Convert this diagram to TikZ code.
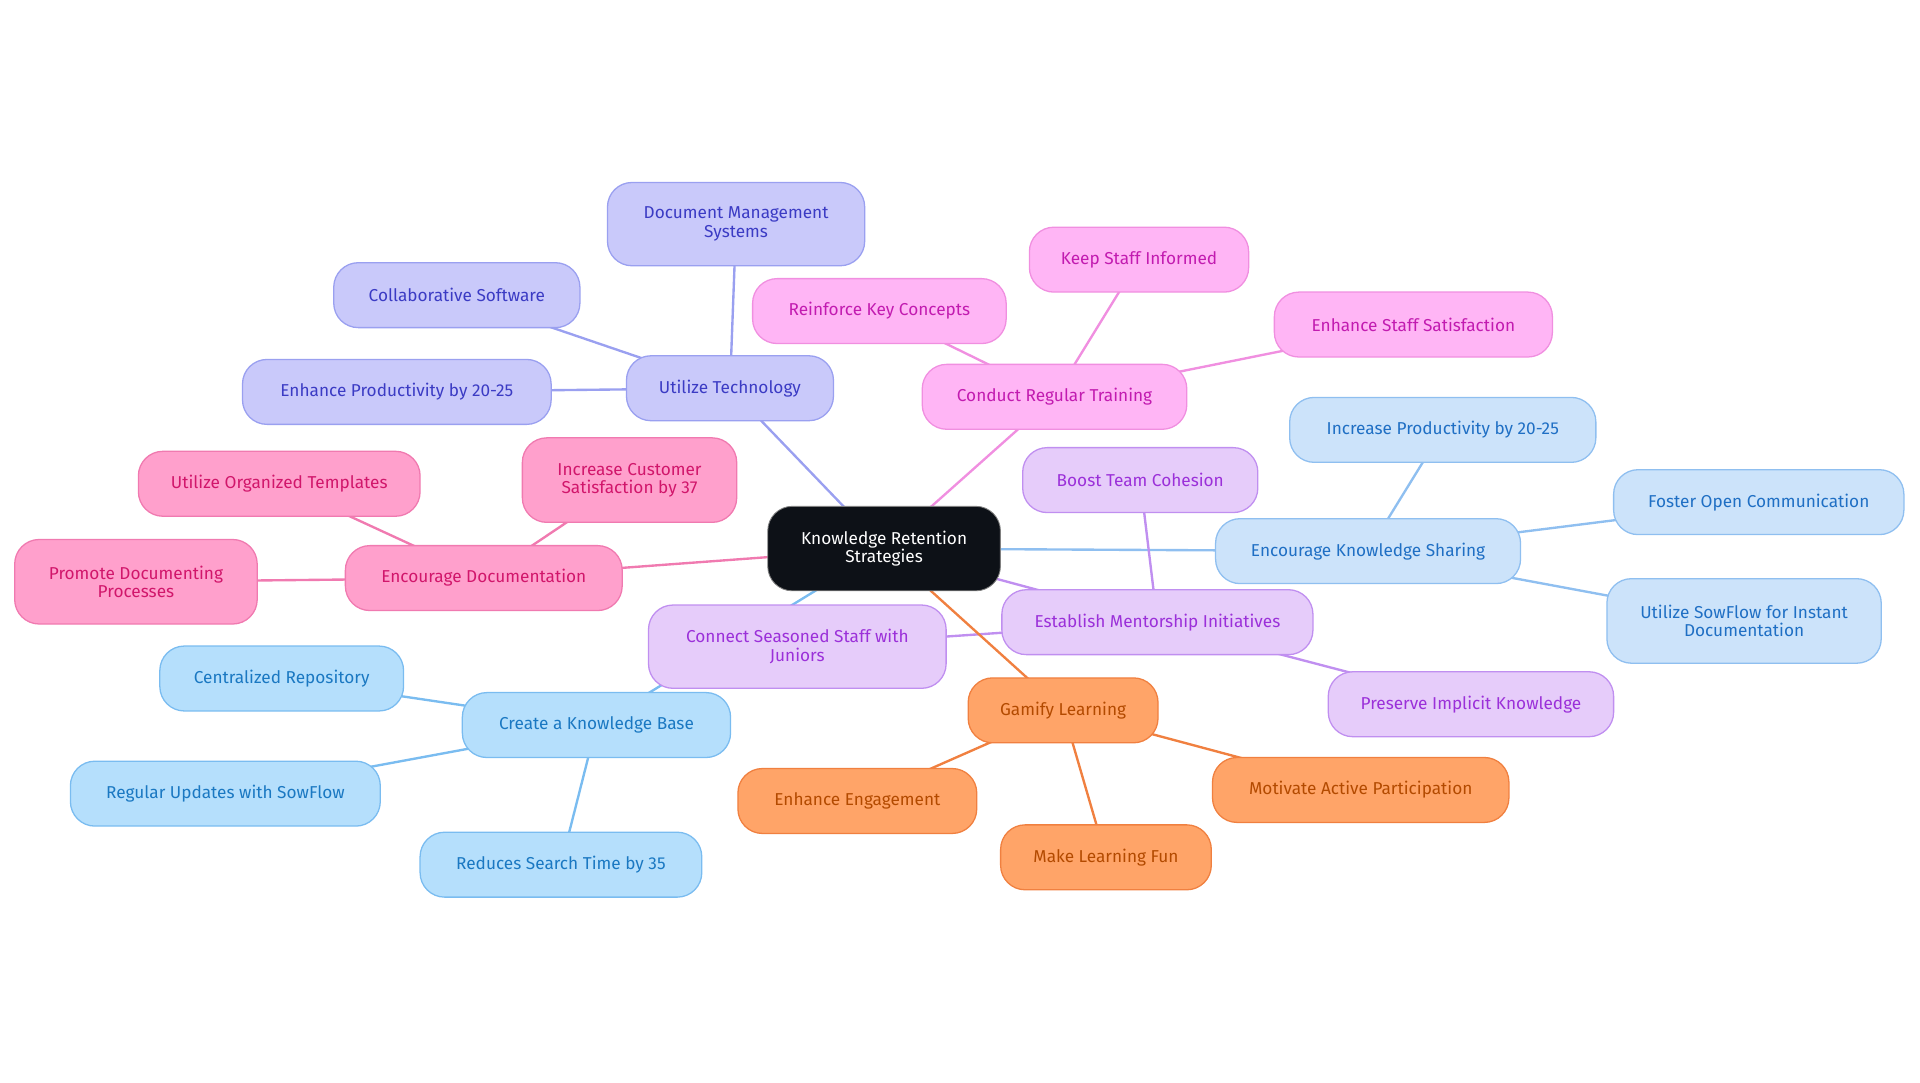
\documentclass[tikz,border=0pt]{standalone}
\usepackage{fontspec}
\setmainfont{Fira Sans}
\usetikzlibrary{backgrounds}
\definecolor{cB}{HTML}{0D1117}
\definecolor{tF}{HTML}{C9C9FA}\definecolor{tT}{HTML}{3B3BC4}\definecolor{tL}{HTML}{9AA0F0}
\definecolor{rF}{HTML}{FFB5F5}\definecolor{rT}{HTML}{C21BB0}\definecolor{rL}{HTML}{F08FE0}
\definecolor{dF}{HTML}{FFA0CC}\definecolor{dT}{HTML}{D1166B}\definecolor{dL}{HTML}{F07AB0}
\definecolor{sF}{HTML}{CCE3FA}\definecolor{sT}{HTML}{1F6FC4}\definecolor{sL}{HTML}{8FBFF0}
\definecolor{mF}{HTML}{E6CCFA}\definecolor{mT}{HTML}{9B30D9}\definecolor{mL}{HTML}{C08FF0}
\definecolor{kF}{HTML}{B5DFFC}\definecolor{kT}{HTML}{1A78C2}\definecolor{kL}{HTML}{7ABCF0}
\definecolor{gF}{HTML}{FFA468}\definecolor{gT}{HTML}{B34A00}\definecolor{gL}{HTML}{F08040}
\tikzset{
 bx/.style={rounded corners=0.4cm,draw=#1L,fill=#1F,text=#1T,line width=0.6pt,align=center,font=\fontsize{8}{8.6}\selectfont,inner sep=0pt},
 ln/.style={draw=#1L,line width=1.1pt},
}
\newcommand{\bn}[7]{\node[bx=#1,minimum width=#5*0.02cm,minimum height=#6*0.02cm] (#2) at (#3*0.02,-#4*0.02) {#7};}
\begin{document}
\begin{tikzpicture}
\useasboundingbox (0,0) rectangle (31.36,-17.68);
\node[rounded corners=0.4cm,draw=gray,fill=cB,text=white,align=center,font=\fontsize{8}{8.6}\selectfont,minimum width=3.8cm,minimum height=1.38cm,inner sep=0pt] (c) at (14.44,-8.96) {Knowledge Retention\\Strategies};
\bn{t}{t0}{596}{317}{169}{53}{Utilize Technology}
\bn{t}{t1}{601}{183}{210}{68}{Document Management\\Systems}
\bn{t}{t2}{373}{241}{201}{53}{Collaborative Software}
\bn{t}{t3}{324}{320}{252}{53}{Enhance Productivity by 20-25}
\bn{r}{r0}{861}{324}{216}{53}{Conduct Regular Training}
\bn{r}{r1}{718}{254}{207}{53}{Reinforce Key Concepts}
\bn{r}{r2}{930}{212}{179}{53}{Keep Staff Informed}
\bn{r}{r3}{1154}{265}{227}{53}{Enhance Staff Satisfaction}
\bn{d}{d0}{395}{472}{226}{53}{Encourage Documentation}
\bn{d}{d1}{514}{392}{175}{69}{Increase Customer\\Satisfaction by 37}
\bn{d}{d2}{228}{395}{230}{53}{Utilize Organized Templates}
\bn{d}{d3}{111}{475}{198}{69}{Promote Documenting\\Processes}
\bn{s}{s0}{1117}{450}{249}{53}{Encourage Knowledge Sharing}
\bn{s}{s1}{1178}{351}{250}{53}{Increase Productivity by 20-25}
\bn{s}{s2}{1436}{410}{237}{53}{Foster Open Communication}
\bn{s}{s3}{1424}{507}{224}{69}{Utilize SowFlow for Instant\\Documentation}
\bn{m}{m0}{945}{508}{254}{53}{Establish Mentorship Initiatives}
\bn{m}{m1}{931}{392}{192}{53}{Boost Team Cohesion}
\bn{m}{m2}{651}{528}{243}{68}{Connect Seasoned Staff with\\Juniors}
\bn{m}{m3}{1201}{575}{233}{53}{Preserve Implicit Knowledge}
\bn{k}{k0}{487}{592}{219}{53}{Create a Knowledge Base}
\bn{k}{k1}{230}{554}{199}{53}{Centralized Repository}
\bn{k}{k2}{184}{648}{253}{53}{Regular Updates with SowFlow}
\bn{k}{k3}{458}{706}{230}{53}{Reduces Search Time by 35}
\bn{g}{g0}{868}{580}{155}{53}{Gamify Learning}
\bn{g}{g1}{700}{654}{195}{53}{Enhance Engagement}
\bn{g}{g2}{903}{700}{172}{53}{Make Learning Fun}
\bn{g}{g3}{1111}{645}{242}{53}{Motivate Active Participation}
\begin{scope}[on background layer]
\foreach \p in {t,r,d,s,m,k,g}{
 \draw[ln=\p] (c.center) -- (\p0.center);
 \foreach \i in {1,2,3}{\draw[ln=\p] (\p0.center) -- (\p\i.center);}
}
\end{scope}
\end{tikzpicture}
\end{document}
